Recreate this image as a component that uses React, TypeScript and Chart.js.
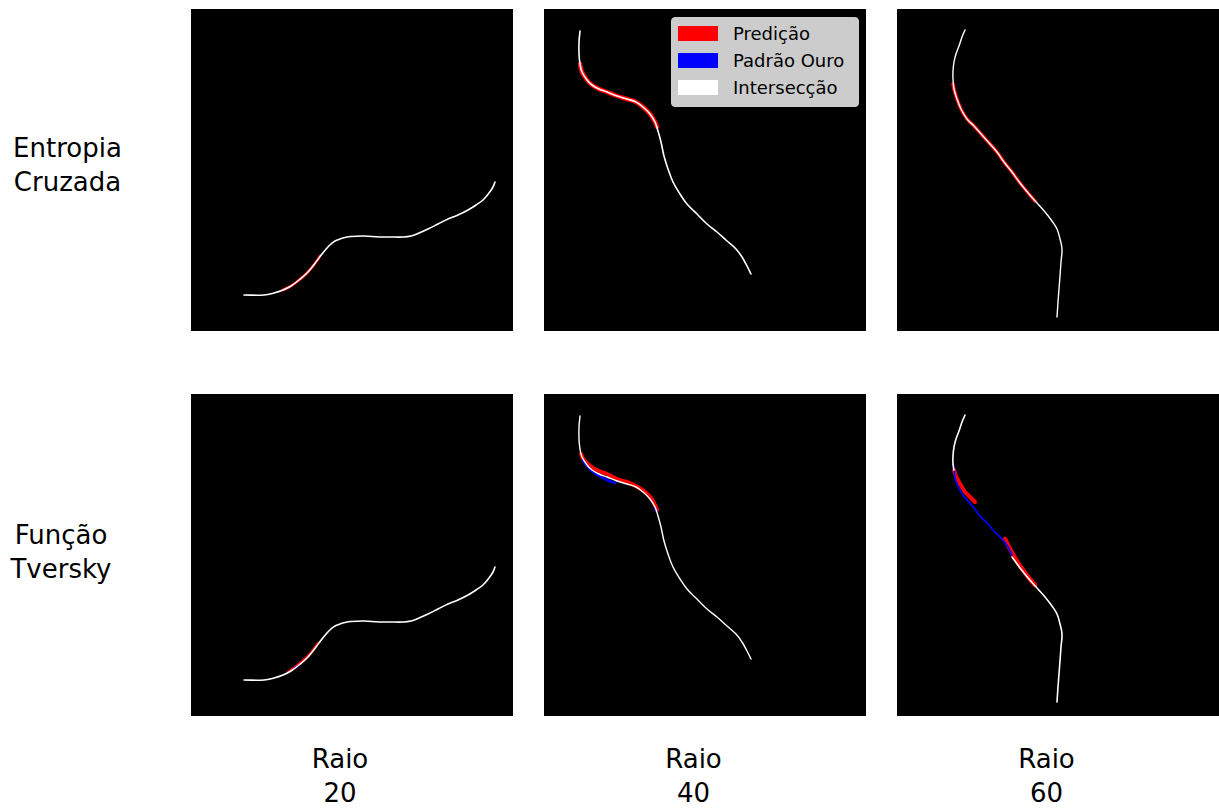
import React, { useEffect, useRef } from "react";
import { Chart, registerables } from "chart.js";

Chart.register(...registerables);

// ---------- data (pixel coordinates inside each 322x322 image) ----------
const rowLabels = [["Entropia", "Cruzada"], ["Função", "Tversky"]];
const colLabels = [["Raio", "20"], ["Raio", "40"], ["Raio", "60"]];
const legendLabels = ["Predição", "Padrão Ouro", "Intersecção"];
const legendColors = ["#ff0000", "#0000ff", "#ffffff"];

// Raio 20 curve
const curve20X = [53, 73, 83, 92, 100, 108, 117, 125, 131, 136, 140, 144, 149, 154, 160, 173, 188, 200, 212, 220, 228, 237, 247, 257, 267, 277, 285, 292, 298, 302, 304];
const curve20Y = [286, 286, 284, 281, 277, 271, 263, 253, 245, 239, 235, 232, 230, 228.5, 227.5, 227, 228, 228, 228, 227, 224, 220, 215, 210, 206, 201, 196, 191, 184, 178, 173];
const red20CeX = [92, 100, 108, 117, 125, 129];
const red20CeY = [281, 277, 271, 263, 253, 247];
const red20TvX = [97, 100, 108, 117, 125, 127];
const red20TvY = [278, 276, 270, 262, 252, 249];
const blue20TvX = [104, 107];
const blue20TvY = [274, 272];

// Raio 40 curve
const curve40X = [36, 35, 35, 36, 38, 43, 48, 55, 63, 73, 83, 92, 99, 106, 111, 114, 117, 120, 124, 129, 136, 143, 153, 163, 173, 183, 192, 198, 203, 207];
const curve40Y = [22, 33, 45, 55, 63, 71, 76, 80, 83, 87, 90, 93, 98, 105, 113, 122, 133, 147, 160, 173, 185, 195, 205, 215, 223, 232, 240, 248, 257, 265];
const red40CeX = [36, 38, 43, 48, 55, 63, 73, 83, 92, 99, 106, 111, 113];
const red40CeY = [55, 63, 71, 76, 80, 83, 87, 90, 93, 98, 105, 113, 118];
const red40TvX = [37, 40, 44, 49, 55, 63, 73, 83, 92, 100, 107, 111, 113];
const red40TvY = [60, 66, 70, 74, 77, 80, 85, 88, 92, 97, 104, 111, 116];
const blue40TvX = [39, 44, 49, 55, 63, 71];
const blue40TvY = [67, 73, 78, 82, 86, 89];
const blue40TvBX = [111, 113];
const blue40TvBY = [114, 118];

// Raio 60 curve
const curve60X = [68, 65, 62, 59, 57, 56, 56, 57, 60, 64, 70, 77, 85, 93, 100, 107, 115, 123, 132, 140, 148, 155, 160, 163, 165, 164, 163, 162, 161, 160];
const curve60Y = [21, 28, 37, 45, 53, 62, 70, 80, 90, 100, 110, 117, 126, 135, 143, 153, 163, 174, 185, 194, 203, 212, 220, 230, 240, 253, 267, 280, 293, 308];
const red60CeX = [56, 57, 60, 64, 70, 77, 85, 93, 100, 107, 115, 123, 132, 138];
const red60CeY = [75, 80, 90, 100, 110, 117, 126, 135, 143, 153, 163, 174, 185, 192];
const white60TopX = [68, 65, 62, 59, 57, 56, 56, 57];
const white60TopY = [21, 28, 37, 45, 53, 62, 70, 76];
const white60BotX = [115, 123, 132, 140, 148, 155, 160, 163, 165, 164, 163, 162, 161, 160];
const white60BotY = [163, 174, 185, 194, 203, 212, 220, 230, 240, 253, 267, 280, 293, 308];
const blue60TvX = [56, 57, 58, 60, 63, 66, 70, 77, 83, 90, 96, 102, 106, 111, 115];
const blue60TvY = [70, 76, 84, 90, 96, 101, 106, 114, 122, 129, 136, 142, 146, 153, 161];
const red60TvAX = [57, 59, 62, 65, 68, 72, 75, 78];
const red60TvAY = [76, 82, 88, 93, 98, 102, 105, 108];
const red60TvBX = [108, 110, 113, 117, 121, 126, 132, 138];
const red60TvBY = [145, 149, 155, 162, 169, 176, 184, 191];

// ---------- layout ----------
const SIZE = 322;
const PANEL_LEFT = [191, 544, 897];
const PANEL_TOP = [9, 394];

type Seg = { x: number[]; y: number[]; color: string; width: number; order: number };

const W = "#ffffff";
const R = "#ff0000";
const B = "#0000ff";

const panels: Seg[][][] = [
  [
    [
      { x: curve20X, y: curve20Y, color: W, width: 1.6, order: 0 },
      { x: red20CeX, y: red20CeY, color: R, width: 2.8, order: 2 },
    ],
    [
      { x: curve40X, y: curve40Y, color: W, width: 1.6, order: 0 },
      { x: red40CeX, y: red40CeY, color: R, width: 4.5, order: 2 },
    ],
    [
      { x: curve60X, y: curve60Y, color: W, width: 1.4, order: 0 },
      { x: red60CeX, y: red60CeY, color: R, width: 3.5, order: 2 },
    ],
  ],
  [
    [
      { x: curve20X, y: curve20Y, color: W, width: 1.6, order: 0 },
      { x: red20TvX, y: red20TvY, color: R, width: 2.6, order: 2 },
      { x: blue20TvX, y: blue20TvY, color: B, width: 2, order: 1 },
    ],
    [
      { x: curve40X, y: curve40Y, color: W, width: 1.4, order: 0 },
      { x: red40TvX, y: red40TvY, color: R, width: 4, order: 2 },
      { x: blue40TvX, y: blue40TvY, color: B, width: 2.5, order: 1 },
      { x: blue40TvBX, y: blue40TvBY, color: B, width: 2, order: 1 },
    ],
    [
      { x: white60TopX, y: white60TopY, color: W, width: 1.6, order: 0 },
      { x: white60BotX, y: white60BotY, color: W, width: 1.6, order: 0 },
      { x: blue60TvX, y: blue60TvY, color: B, width: 1.8, order: 1 },
      { x: red60TvAX, y: red60TvAY, color: R, width: 4, order: 2 },
      { x: red60TvBX, y: red60TvBY, color: R, width: 4.5, order: 2 },
    ],
  ],
];

function Panel({ left, top, segs }: { left: number; top: number; segs: Seg[] }) {
  const ref = useRef<HTMLCanvasElement>(null);
  useEffect(() => {
    const chart = new Chart(ref.current!, {
      type: "scatter",
      data: {
        datasets: segs.map((s) => ({
          data: s.x.map((v, i) => ({ x: v, y: s.y[i] })),
          showLine: true,
          borderColor: s.color,
          backgroundColor: s.color,
          borderWidth: s.width,
          pointRadius: 0,
          pointHoverRadius: 0,
          tension: 0.4,
          order: s.order,
          fill: false,
          borderCapStyle: "round" as const,
        })),
      },
      options: {
        responsive: false,
        animation: false,
        events: [],
        layout: { padding: 0 },
        plugins: { legend: { display: false }, tooltip: { enabled: false } },
        scales: {
          x: { type: "linear", min: 0, max: SIZE, display: false },
          y: { type: "linear", min: 0, max: SIZE, reverse: true, display: false },
        },
      },
    });
    return () => chart.destroy();
  }, []);
  return (
    <canvas
      ref={ref}
      width={SIZE}
      height={SIZE}
      style={{ position: "absolute", left, top, width: SIZE, height: SIZE, background: "#000" }}
    />
  );
}

function Label({ cx, top, lines }: { cx: number; top: number; lines: string[] }) {
  return (
    <div
      style={{
        position: "absolute",
        left: cx - 100,
        top,
        width: 200,
        textAlign: "center",
        fontSize: 26,
        lineHeight: "34px",
        color: "#000",
        whiteSpace: "pre",
      }}
    >
      {lines.join("\n")}
    </div>
  );
}

function Legend() {
  return (
    <div
      style={{
        position: "absolute",
        left: 671,
        top: 17,
        width: 188,
        height: 90,
        boxSizing: "border-box",
        background: "#cccccc",
        border: "1px solid #cccccc",
        borderRadius: 4,
      }}
    >
      {legendLabels.map((t, i) => (
        <React.Fragment key={t}>
          <div
            style={{
              position: "absolute",
              left: 6,
              top: 8 + i * 27,
              width: 40,
              height: 15,
              background: legendColors[i],
            }}
          />
          <div
            style={{
              position: "absolute",
              left: 61,
              top: 2 + i * 27,
              fontSize: 18,
              lineHeight: "27px",
              color: "#000",
              whiteSpace: "nowrap",
            }}
          >
            {t}
          </div>
        </React.Fragment>
      ))}
    </div>
  );
}

export default function App() {
  const rowCenters = [67.5, 61];
  const rowTops = [131, 518];
  const colCenters = [340, 693.5, 1046.5];
  return (
    <div
      style={{
        position: "absolute",
        left: 0,
        top: 0,
        width: 1219,
        height: 809,
        background: "#fff",
        fontFamily: "'DejaVu Sans', sans-serif",
        overflow: "hidden",
      }}
    >
      {panels.map((row, r) =>
        row.map((segs, c) => (
          <Panel key={`${r}-${c}`} left={PANEL_LEFT[c]} top={PANEL_TOP[r]} segs={segs} />
        ))
      )}
      <Legend />
      {rowLabels.map((l, r) => (
        <Label key={`r${r}`} cx={rowCenters[r]} top={rowTops[r]} lines={l} />
      ))}
      {colLabels.map((l, c) => (
        <Label key={`c${c}`} cx={colCenters[c]} top={742} lines={l} />
      ))}
    </div>
  );
}
